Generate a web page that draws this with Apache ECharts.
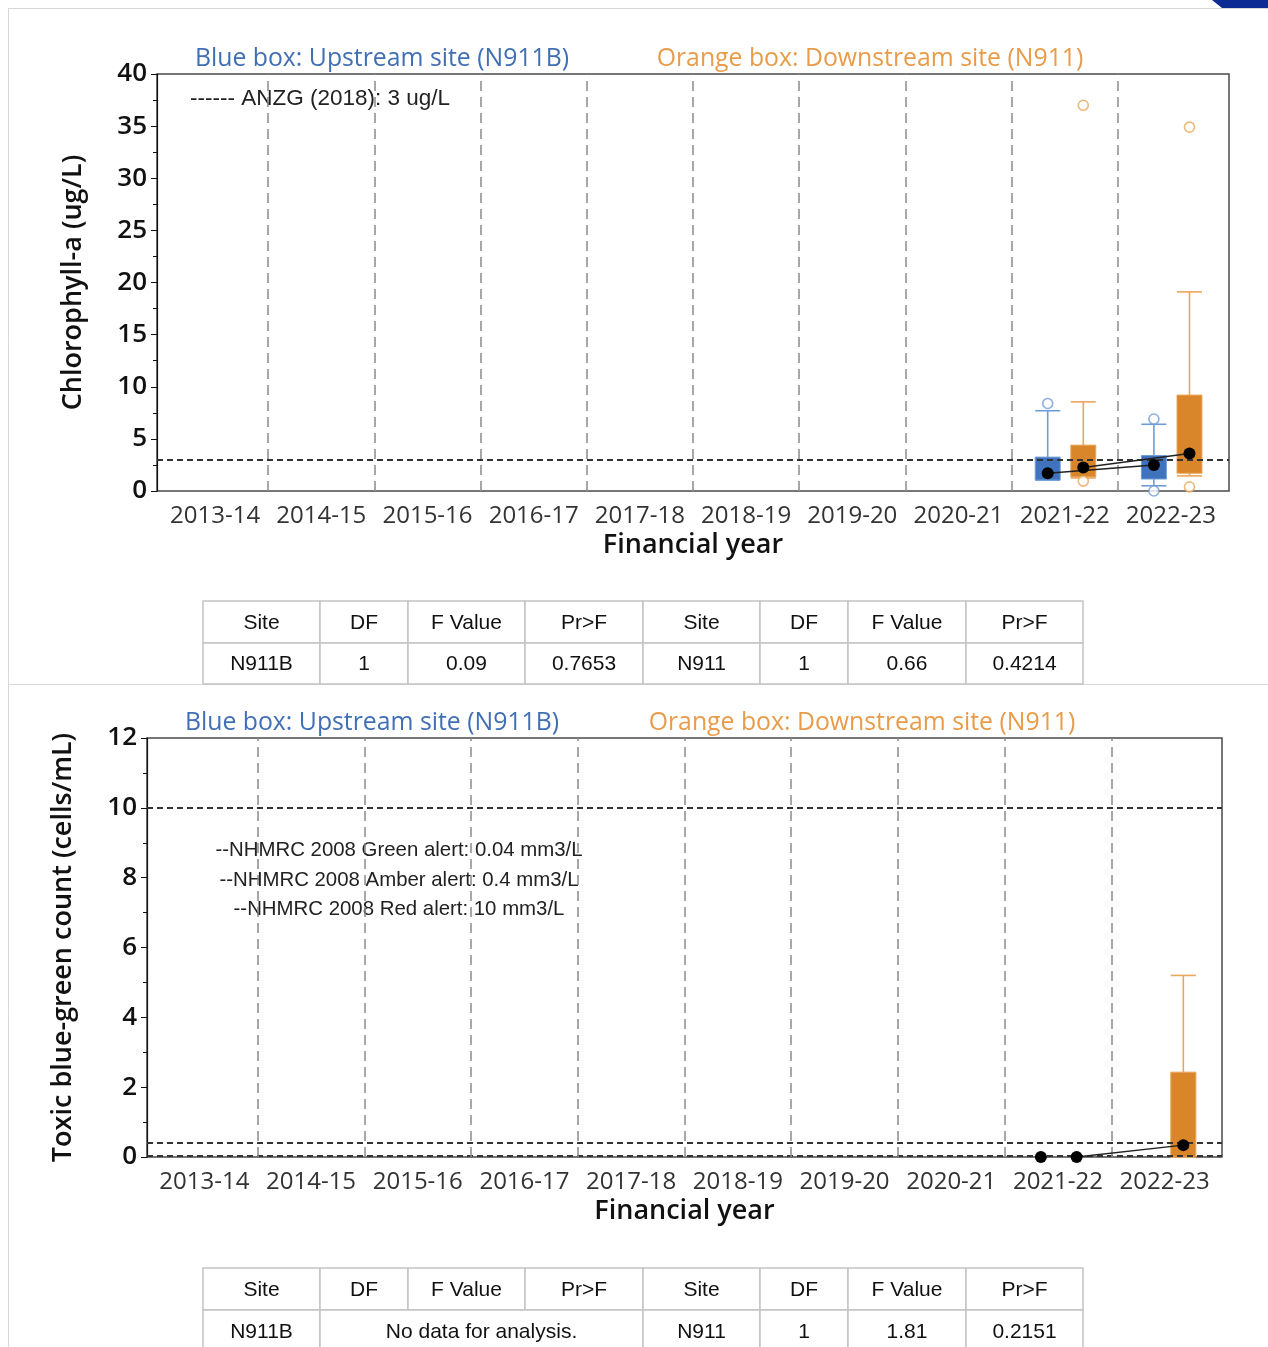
<!DOCTYPE html>
<html>
<head>
<meta charset="utf-8">
<script src="https://cdn.jsdelivr.net/npm/echarts@6/dist/echarts.min.js"></script>
<style>
  html, body { margin: 0; padding: 0; background: #ffffff; }
  #chart { width: 1268px; height: 1347px; }
</style>
</head>
<body>
<div id="chart"></div>
<script>
// ---------------- DATA ----------------
const years = ['2013-14','2014-15','2015-16','2016-17','2017-18','2018-19','2019-20','2020-21','2021-22','2022-23'];

// Chlorophyll-a (ug/L): box = [yearIndex, lowerWhisker, Q1, Q3, upperWhisker]
const chlRef = [3];
const chlBlueBox   = [[8, 1.05, 1.05, 3.25, 7.7], [9, 0.5, 1.15, 3.4, 6.4]];
const chlOrangeBox = [[8, 1.25, 1.35, 4.4, 8.55], [9, 1.45, 1.7, 9.2, 19.1]];
const chlBlueOut   = [[8, 8.4], [9, 6.9], [9, 0.0]];
const chlOrangeOut = [[8, 37.0], [8, 0.95], [9, 34.9], [9, 0.4]];
const chlBlueMean  = [[8, 1.7], [9, 2.5]];
const chlOrangeMean= [[8, 2.25], [9, 3.6]];

// Toxic blue-green count (cells/mL)
const bgRef = [10, 0.4, 0.04];
const bgBlueBox    = [];
const bgOrangeBox  = [[9, 0, 0, 2.43, 5.2]];
const bgBlueOut    = [];
const bgOrangeOut  = [];
const bgBlueMean   = [[8, 0]];
const bgOrangeMean = [[8, 0], [9, 0.34]];

// Tables
const tableHead = ['Site','DF','F Value','Pr>F','Site','DF','F Value','Pr>F'];
const chlTableRow = [['N911B',1],['1',1],['0.09',1],['0.7653',1],['N911',1],['1',1],['0.66',1],['0.4214',1]];
const bgTableRow  = [['N911B',1],['No data for analysis.',3],['N911',1],['1',1],['1.81',1],['0.2151',1]];

// ---------------- STYLE ----------------
const BLUE_FILL = '#3f73bd', BLUE_LINE = '#6f9bd6';
const ORANGE_FILL = '#d9862b', ORANGE_LINE = '#eaa65a';
const BLUE_TXT = '#416fb4', ORANGE_TXT = '#e89c4a';
const BLUE_OFF = -0.16, ORANGE_OFF = 0.175, BOX_W = 0.235;

function boxRender(offset, fill, line) {
  return function (params, api) {
    const x = api.value(0) + offset;
    const band = api.size([1, 0])[0];
    const hw = band * BOX_W / 2;
    const pLo = api.coord([x, api.value(1)]);
    const pQ1 = api.coord([x, api.value(2)]);
    const pQ3 = api.coord([x, api.value(3)]);
    const pHi = api.coord([x, api.value(4)]);
    const cx = pLo[0];
    const ls = { stroke: line, lineWidth: 1.6 };
    return {
      type: 'group',
      children: [
        { type: 'line', shape: { x1: cx, y1: pQ3[1], x2: cx, y2: pHi[1] }, style: ls },
        { type: 'line', shape: { x1: cx - hw, y1: pHi[1], x2: cx + hw, y2: pHi[1] }, style: ls },
        { type: 'line', shape: { x1: cx, y1: pQ1[1], x2: cx, y2: pLo[1] }, style: ls },
        { type: 'line', shape: { x1: cx - hw, y1: pLo[1], x2: cx + hw, y2: pLo[1] }, style: ls },
        { type: 'rect', shape: { x: cx - hw, y: pQ3[1], width: 2 * hw, height: pQ1[1] - pQ3[1] },
          style: { fill: fill, stroke: line, lineWidth: 1 } }
      ]
    };
  };
}

function shift(arr, off) { return arr.map(d => [d[0] + off, d[1]]); }

function boundaryLines() {
  const out = [];
  for (let i = 0; i < years.length - 1; i++) out.push({ xAxis: i + 0.5 });
  return out;
}

const axisNameFont = { fontFamily: 'Open Sans', fontWeight: 600, fontSize: 27, color: '#111' };

function panel(g0, g1, xBase, yBase, yMax, yInterval, yName, refs, blueBox, orangeBox, blueOut, orangeOut, blueMean, orangeMean) {
  const xAxis = [
    { gridIndex: g0, type: 'value', min: 0, max: 1, show: false },
    { gridIndex: g1, type: 'category', data: years, boundaryGap: true,
      axisLine: { show: false }, axisTick: { show: false }, splitLine: { show: false },
      axisLabel: { fontFamily: 'Open Sans', fontSize: 24, color: '#333', margin: 13, interval: 0 },
      name: 'Financial year', nameLocation: 'middle', nameGap: 41,
      nameTextStyle: axisNameFont },
    { gridIndex: g1, type: 'value', min: -0.5, max: years.length - 0.5, show: false }
  ];
  const yAxis = [
    { gridIndex: g0, type: 'value', min: 0, max: yMax, interval: yInterval,
      axisLine: { show: true, lineStyle: { color: '#111', width: 1.2 } },
      axisTick: { show: true, length: 6, lineStyle: { color: '#111' } },
      minorTick: { show: true, splitNumber: 2, length: 4, lineStyle: { color: '#111' } },
      splitLine: { show: false },
      axisLabel: { fontFamily: 'Open Sans', fontWeight: 600, fontSize: 26, color: '#111', margin: 10 },
      name: yName, nameLocation: 'middle', nameGap: 70, nameRotate: 90,
      nameTextStyle: axisNameFont },
    { gridIndex: g1, type: 'value', min: 0, max: yMax, show: false }
  ];
  const xf = xBase, yf = yBase, xv = xBase + 2, yv = yBase + 1;
  const series = [
    { type: 'line', xAxisIndex: xf, yAxisIndex: yf, data: [], silent: true,
      markLine: { silent: true, symbol: 'none', label: { show: false },
        lineStyle: { color: '#333', type: [6, 4], width: 2 },
        data: refs.map(v => ({ yAxis: v })) } },
    { type: 'custom', xAxisIndex: xv, yAxisIndex: yv, renderItem: boxRender(BLUE_OFF, BLUE_FILL, BLUE_LINE),
      data: blueBox, encode: { x: 0, y: [1, 2, 3, 4] }, clip: false, z: 3 },
    { type: 'custom', xAxisIndex: xv, yAxisIndex: yv, renderItem: boxRender(ORANGE_OFF, ORANGE_FILL, ORANGE_LINE),
      data: orangeBox, encode: { x: 0, y: [1, 2, 3, 4] }, clip: false, z: 3 },
    { type: 'scatter', xAxisIndex: xv, yAxisIndex: yv, data: shift(blueOut, BLUE_OFF), symbol: 'circle', symbolSize: 10,
      itemStyle: { color: '#fff', borderColor: BLUE_LINE, borderWidth: 1.6 }, z: 4 },
    { type: 'scatter', xAxisIndex: xv, yAxisIndex: yv, data: shift(orangeOut, ORANGE_OFF), symbol: 'circle', symbolSize: 10,
      itemStyle: { color: '#fff', borderColor: ORANGE_LINE, borderWidth: 1.6 }, z: 4 },
    { type: 'line', xAxisIndex: xv, yAxisIndex: yv, data: shift(blueMean, BLUE_OFF), symbol: 'circle', symbolSize: 12,
      lineStyle: { color: '#222', width: 1.4 }, itemStyle: { color: '#000' }, z: 5,
      markLine: { silent: true, symbol: 'none', label: { show: false },
        lineStyle: { color: '#8a8a8a', type: [10, 6], width: 1.5 }, data: boundaryLines() } },
    { type: 'line', xAxisIndex: xv, yAxisIndex: yv, data: shift(orangeMean, ORANGE_OFF), symbol: 'circle', symbolSize: 12,
      lineStyle: { color: '#222', width: 1.4 }, itemStyle: { color: '#000' }, z: 5 }
  ];
  return { xAxis, yAxis, series };
}

const chlPanel = panel(0, 1, 0, 0, 40, 5, 'Chlorophyll-a (ug/L)', chlRef,
  chlBlueBox, chlOrangeBox, chlBlueOut, chlOrangeOut, chlBlueMean, chlOrangeMean);
const bgPanel = panel(2, 3, 3, 2, 12, 2, 'Toxic blue-green count (cells/mL)', bgRef,
  bgBlueBox, bgOrangeBox, bgBlueOut, bgOrangeOut, bgBlueMean, bgOrangeMean);

// ---------------- TABLE GRAPHICS ----------------
function tableGraphic(cols, rows, head, body) {
  const els = [];
  const font = '21px "Liberation Sans", Arial, sans-serif';
  function cell(x0, x1, y0, y1, txt) {
    els.push({ type: 'rect', shape: { x: x0, y: y0, width: x1 - x0, height: y1 - y0 },
      style: { fill: '#fff', stroke: '#c4c4c4', lineWidth: 1.5 }, z: 10 });
    els.push({ type: 'text', z: 11, style: { x: (x0 + x1) / 2, y: (y0 + y1) / 2 + 1, text: txt,
      font: font, fill: '#111', textAlign: 'center', textVerticalAlign: 'middle' } });
  }
  head.forEach((t, i) => cell(cols[i], cols[i + 1], rows[0], rows[1], t));
  let c = 0;
  body.forEach(([t, span]) => { cell(cols[c], cols[c + span], rows[1], rows[2], t); c += span; });
  return els;
}
const tableCols = [203, 320, 408, 525, 643, 760, 848, 966, 1083];

const titleFont = '24.8px "Open Sans"';
const noteFont = '22.5px "Liberation Sans"';
const alertFont = '20.4px "Liberation Sans"';

const graphics = [
  { type: 'line', shape: { x1: 8, y1: 8.5, x2: 1268, y2: 8.5 }, style: { stroke: '#d8d8d8', lineWidth: 1 } },
  { type: 'line', shape: { x1: 8.5, y1: 8, x2: 8.5, y2: 1347 }, style: { stroke: '#d8d8d8', lineWidth: 1 } },
  { type: 'line', shape: { x1: 8, y1: 684.5, x2: 1268, y2: 684.5 }, style: { stroke: '#d8d8d8', lineWidth: 1 } },
  { type: 'polygon', shape: { points: [[1212, 0], [1268, 0], [1268, 8], [1222, 8]] }, style: { fill: '#0b2a94' } },
  { type: 'text', style: { x: 382, y: 59, text: 'Blue box: Upstream site (N911B)', font: titleFont, fill: BLUE_TXT, textAlign: 'center', textVerticalAlign: 'middle' } },
  { type: 'text', style: { x: 870, y: 59, text: 'Orange box: Downstream site (N911)', font: titleFont, fill: ORANGE_TXT, textAlign: 'center', textVerticalAlign: 'middle' } },
  { type: 'text', style: { x: 372, y: 723, text: 'Blue box: Upstream site (N911B)', font: titleFont, fill: BLUE_TXT, textAlign: 'center', textVerticalAlign: 'middle' } },
  { type: 'text', style: { x: 862, y: 723, text: 'Orange box: Downstream site (N911)', font: titleFont, fill: ORANGE_TXT, textAlign: 'center', textVerticalAlign: 'middle' } },
  { type: 'text', style: { x: 190, y: 99, text: '------ ANZG (2018): 3 ug/L', font: noteFont, fill: '#222', textAlign: 'left', textVerticalAlign: 'middle' } },
  { type: 'text', style: { x: 399, y: 850, text: '--NHMRC 2008 Green alert: 0.04 mm3/L', font: alertFont, fill: '#222', textAlign: 'center', textVerticalAlign: 'middle' } },
  { type: 'text', style: { x: 399, y: 880, text: '--NHMRC 2008 Amber alert: 0.4 mm3/L', font: alertFont, fill: '#222', textAlign: 'center', textVerticalAlign: 'middle' } },
  { type: 'text', style: { x: 399, y: 909, text: '--NHMRC 2008 Red alert: 10 mm3/L', font: alertFont, fill: '#222', textAlign: 'center', textVerticalAlign: 'middle' } }
].concat(
  tableGraphic(tableCols, [601, 643, 684], tableHead, chlTableRow),
  tableGraphic(tableCols, [1268, 1310, 1352], tableHead, bgTableRow)
);

const option = {
  animation: false,
  backgroundColor: '#ffffff',
  grid: [
    { left: 157, top: 74, width: 1072, height: 417, show: true, borderColor: '#4a4a4a', borderWidth: 1.5, backgroundColor: 'transparent' },
    { left: 162, top: 74, width: 1062, height: 417 },
    { left: 147, top: 738, width: 1075, height: 419, show: true, borderColor: '#4a4a4a', borderWidth: 1.5, backgroundColor: 'transparent' },
    { left: 151, top: 738, width: 1067, height: 419 }
  ],
  xAxis: chlPanel.xAxis.concat(bgPanel.xAxis),
  yAxis: chlPanel.yAxis.concat(bgPanel.yAxis),
  series: chlPanel.series.concat(bgPanel.series),
  graphic: graphics
};

const chart = echarts.init(document.getElementById('chart'), null, { renderer: 'canvas' });
chart.setOption(option);
</script>
</body>
</html>
